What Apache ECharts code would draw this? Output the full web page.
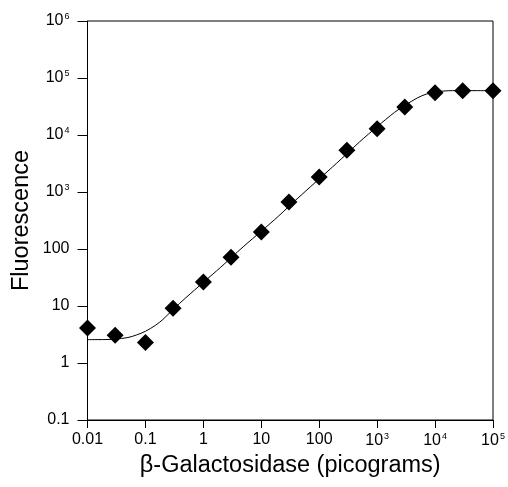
<!DOCTYPE html>
<html>
<head>
<meta charset="utf-8">
<script src="https://cdn.jsdelivr.net/npm/echarts@6/dist/echarts.min.js"></script>
<style>
html,body{margin:0;padding:0;background:#fff;}
#chart{width:508px;height:487px;}
</style>
</head>
<body>
<div id="chart"></div>
<script>
// measured points (picograms, fluorescence)
var pointX = [0.01, 0.03, 0.1, 0.3, 1, 3, 10, 30, 100, 300, 1000, 3000, 10000, 30000, 100000]
var pointY = [4.1, 3.06, 2.28, 9.1, 26.4, 72, 199, 667, 1830, 5400, 12900, 31000, 55000, 60000, 60000]
// fitted curve
var curveX = [0.01, 0.02, 0.03, 0.05, 0.07, 0.1, 0.15, 0.2, 0.3, 0.5, 1, 2, 3, 5, 10, 20, 30, 50, 100, 200, 300, 500, 1000, 2000, 3000, 5000, 7000, 10000, 20000, 100000]
var curveY = [2.57, 2.58, 2.62, 2.8, 3.1, 3.6, 4.6, 5.8, 8.7, 14, 26, 48, 70, 112, 205, 380, 560, 900, 1700, 3200, 4700, 7600, 14000, 25000, 33000, 45000, 52000, 57000, 60000, 60000]

var fontFam = '"Liberation Sans", Arial, sans-serif'

function tickLabel(v){
  var e = Math.round(Math.log10(v))
  if (e < 0) return Math.pow(10, e).toFixed(-e)
  if (e <= 2) return String(Math.pow(10, e))
  return '10{sup|' + e + '}'
}
var richSup = {
  sup: { fontSize: 9, fontFamily: fontFam, color: '#000', verticalAlign: 'top', padding: [0, 0, 8, 1] }
}

var chart = echarts.init(document.getElementById('chart'))
var option = {
  animation: false,
  backgroundColor: '#fff',
  grid: {
    left: 87.5, right: 15, top: 21, bottom: 67,
    show: true, borderColor: '#000', borderWidth: 1
  },
  xAxis: {
    type: 'log', logBase: 10, min: 0.01, max: 100000, interval: 1,
    name: 'β-Galactosidase (picograms)',
    nameLocation: 'middle', nameGap: 34, nameMoveOverlap: false,
    nameTextStyle: { fontSize: 23.5, fontFamily: fontFam, color: '#000' },
    axisLine: { show: true, lineStyle: { color: '#000', width: 1 } },
    axisTick: { show: true, inside: false, length: 8, lineStyle: { color: '#000' } },
    minorTick: { show: false },
    splitLine: { show: false },
    axisLabel: {
      margin: 12, fontSize: 16, fontFamily: fontFam, color: '#000',
      formatter: tickLabel, rich: richSup
    }
  },
  yAxis: {
    type: 'log', logBase: 10, min: 0.1, max: 1000000, interval: 1,
    name: 'Fluorescence',
    nameLocation: 'middle', nameGap: 54, nameMoveOverlap: false,
    nameTextStyle: { fontSize: 23.5, fontFamily: fontFam, color: '#000' },
    axisLine: { show: true, lineStyle: { color: '#000', width: 1 } },
    axisTick: { show: true, inside: false, length: 10, lineStyle: { color: '#000' } },
    splitLine: { show: false },
    axisLabel: {
      margin: 18, fontSize: 16, fontFamily: fontFam, color: '#000',
      formatter: tickLabel, rich: richSup
    }
  },
  series: [
    {
      type: 'line',
      data: curveX.map(function (x, i) { return [x, curveY[i]] }),
      showSymbol: false,
      smooth: 0.3,
      lineStyle: { color: '#000', width: 1 },
      silent: true,
      z: 2
    },
    {
      type: 'scatter',
      data: pointX.map(function (x, i) { return [x, pointY[i]] }),
      symbol: 'diamond',
      symbolSize: [17, 17],
      itemStyle: { color: '#000', opacity: 1 },
      clip: false,
      z: 3
    }
  ]
}
chart.setOption(option, true)
window.addEventListener('resize', function () { chart.resize() })
</script>
</body>
</html>
